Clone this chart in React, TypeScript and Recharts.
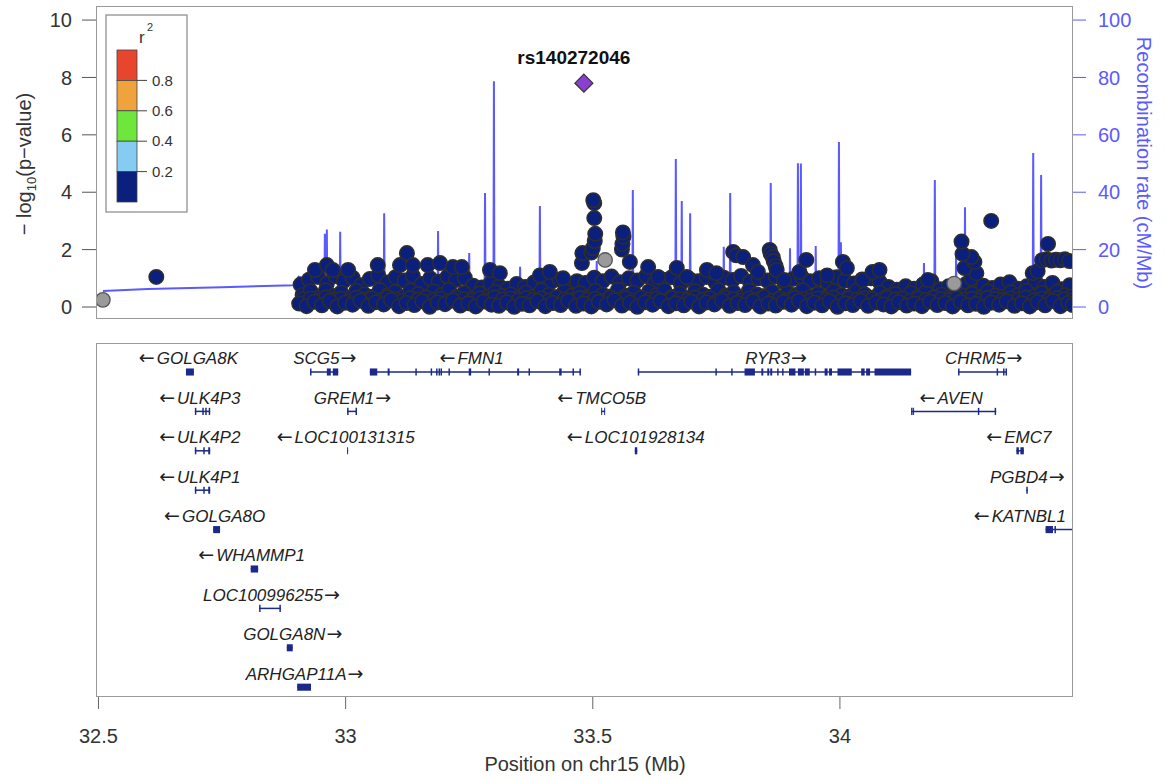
import { ComposedChart, Scatter, Line, XAxis, YAxis, ReferenceLine, ReferenceArea } from 'recharts';

const FONT = '"Liberation Sans", Arial, Helvetica, sans-serif';
const NAVY = '#0b1f7c';
const REC_BLUE = '#5a5aff';

// x range of both panels (Mb on chr15)
const xDomain = [32.495, 34.4715];
const xTicks = [32.5, 33, 33.5, 34];
const pTicks = [0, 2, 4, 6, 8, 10];
const recTicks = [0, 20, 40, 60, 80, 100];

// LD legend
const ldBreaks = ['0.8', '0.6', '0.4', '0.2'];
const ldColors = ['#e8452f', '#f0a23c', '#6fe63c', '#86ccf2', NAVY];

// lead SNP
const leadName = 'rs140272046';
const leadPos = 33.482;
const leadLogP = 7.8;

// SNPs without LD information (grey)
const greySnps: [number, number][] = [[32.509, 0.25], [33.525, 1.64], [34.231, 0.82]];

// dense band of SNPs, bottom row
const lowRow: [number, number][] = [
  [32.906, 0.12], [32.921, 0.03], [32.937, 0.18], [32.952, 0.06], [32.968, 0.21], [32.983, 0.02], [32.999, 0.15], [33.014, 0.08],
  [33.03, 0.22], [33.046, 0.04], [33.061, 0.17], [33.077, 0.09], [33.092, 0.24], [33.108, 0.03], [33.123, 0.14], [33.139, 0.07],
  [33.155, 0.2], [33.17, 0.01], [33.186, 0.16], [33.201, 0.1], [33.217, 0.23], [33.232, 0.05], [33.248, 0.13], [33.263, 0.02],
  [33.279, 0.19], [33.295, 0.08], [33.31, 0.04], [33.326, 0.16], [33.341, 0.01], [33.357, 0.11], [33.372, 0.06], [33.388, 0.2],
  [33.404, 0.03], [33.419, 0.14], [33.435, 0.07], [33.45, 0.22], [33.466, 0.04], [33.481, 0.12], [33.497, 0.02], [33.512, 0.18],
  [33.528, 0.09], [33.544, 0.24], [33.559, 0.05], [33.575, 0.15], [33.59, 0.01], [33.606, 0.17], [33.621, 0.08], [33.637, 0.21],
  [33.653, 0.03], [33.668, 0.13], [33.684, 0.06], [33.699, 0.19], [33.715, 0.02], [33.73, 0.16], [33.746, 0.09], [33.761, 0.23],
  [33.777, 0.04], [33.793, 0.14], [33.808, 0.07], [33.824, 0.2], [33.839, 0.02], [33.855, 0.12], [33.87, 0.05], [33.886, 0.18],
  [33.902, 0.08], [33.917, 0.22], [33.933, 0.03], [33.948, 0.15], [33.964, 0.06], [33.979, 0.2], [33.995, 0.01], [34.011, 0.13],
  [34.026, 0.07], [34.042, 0.21], [34.057, 0.04], [34.073, 0.16], [34.088, 0.09], [34.104, 0.02], [34.119, 0.17], [34.135, 0.05],
  [34.15, 0.12], [34.166, 0.03], [34.182, 0.19], [34.197, 0.07], [34.213, 0.14], [34.228, 0.02], [34.244, 0.18], [34.259, 0.06],
  [34.275, 0.11], [34.291, 0.01], [34.306, 0.15], [34.322, 0.08], [34.337, 0.2], [34.353, 0.04], [34.368, 0.13], [34.384, 0.02],
  [34.4, 0.17], [34.415, 0.06], [34.431, 0.21], [34.446, 0.03], [34.462, 0.14], [34.471, 0.07],
];

// dense band, lower-middle row
const lowMidRow: [number, number][] = [
  [32.913, 0.27], [32.929, 0.3], [32.944, 0.22], [32.96, 0.33], [32.975, 0.26], [32.991, 0.29], [33.006, 0.21], [33.022, 0.32],
  [33.038, 0.25], [33.053, 0.3], [33.069, 0.23], [33.085, 0.34], [33.1, 0.27], [33.116, 0.22], [33.131, 0.31], [33.147, 0.26],
  [33.162, 0.33], [33.178, 0.24], [33.193, 0.29], [33.209, 0.21], [33.225, 0.32], [33.24, 0.27], [33.256, 0.24], [33.271, 0.3],
  [33.287, 0.22], [33.302, 0.33], [33.318, 0.26], [33.334, 0.29], [33.349, 0.23], [33.365, 0.31], [33.38, 0.25], [33.396, 0.3],
  [33.411, 0.22], [33.427, 0.34], [33.443, 0.27], [33.458, 0.23], [33.474, 0.31], [33.489, 0.26], [33.505, 0.29], [33.521, 0.21],
  [33.536, 0.33], [33.552, 0.25], [33.567, 0.3], [33.583, 0.23], [33.598, 0.32], [33.614, 0.26], [33.629, 0.29], [33.645, 0.22],
  [33.661, 0.31], [33.676, 0.27], [33.692, 0.24], [33.707, 0.33], [33.723, 0.25], [33.738, 0.3], [33.754, 0.22], [33.769, 0.32],
  [33.785, 0.27], [33.8, 0.23], [33.816, 0.3], [33.832, 0.26], [33.847, 0.34], [33.863, 0.21], [33.878, 0.29], [33.894, 0.25],
  [33.909, 0.32], [33.925, 0.27], [33.941, 0.23], [33.956, 0.3], [33.972, 0.26], [33.987, 0.33], [34.003, 0.22], [34.018, 0.29],
  [34.034, 0.25], [34.05, 0.31], [34.065, 0.27], [34.081, 0.23], [34.096, 0.32], [34.112, 0.26], [34.127, 0.29], [34.143, 0.22],
  [34.159, 0.3], [34.174, 0.25], [34.19, 0.33], [34.205, 0.27], [34.221, 0.24], [34.236, 0.31], [34.252, 0.26], [34.268, 0.29],
  [34.283, 0.22], [34.299, 0.32], [34.314, 0.27], [34.33, 0.24], [34.345, 0.3], [34.361, 0.26], [34.376, 0.33], [34.392, 0.23],
  [34.408, 0.29], [34.423, 0.25], [34.439, 0.31], [34.454, 0.27], [34.469, 0.23],
];

// dense band, middle row
const midRow: [number, number][] = [
  [32.913, 0.42], [32.929, 0.55], [32.945, 0.33], [32.96, 0.58], [32.976, 0.38], [32.991, 0.5], [33.007, 0.31], [33.022, 0.56],
  [33.038, 0.44], [33.054, 0.36], [33.069, 0.59], [33.085, 0.4], [33.1, 0.52], [33.116, 0.34], [33.131, 0.57], [33.147, 0.45],
  [33.163, 0.32], [33.178, 0.54], [33.194, 0.41], [33.209, 0.6], [33.225, 0.37], [33.24, 0.49], [33.256, 0.3], [33.271, 0.47],
  [33.287, 0.35], [33.303, 0.52], [33.318, 0.39], [33.334, 0.44], [33.349, 0.31], [33.365, 0.5], [33.38, 0.36], [33.396, 0.58],
  [33.411, 0.42], [33.427, 0.34], [33.443, 0.55], [33.458, 0.4], [33.474, 0.48], [33.489, 0.33], [33.505, 0.56], [33.52, 0.43],
  [33.536, 0.37], [33.551, 0.6], [33.567, 0.39], [33.583, 0.5], [33.598, 0.32], [33.614, 0.54], [33.629, 0.41], [33.645, 0.58],
  [33.66, 0.35], [33.676, 0.47], [33.692, 0.3], [33.707, 0.55], [33.723, 0.43], [33.738, 0.36], [33.754, 0.59], [33.769, 0.4],
  [33.785, 0.51], [33.801, 0.34], [33.816, 0.57], [33.832, 0.44], [33.847, 0.38], [33.863, 0.53], [33.878, 0.31], [33.894, 0.49],
  [33.91, 0.42], [33.925, 0.58], [33.941, 0.35], [33.956, 0.46], [33.972, 0.33], [33.987, 0.55], [34.003, 0.41], [34.019, 0.37],
  [34.034, 0.57], [34.05, 0.44], [34.065, 0.32], [34.081, 0.5], [34.096, 0.38], [34.112, 0.45], [34.128, 0.3], [34.143, 0.48],
  [34.159, 0.36], [34.174, 0.52], [34.19, 0.34], [34.205, 0.43], [34.221, 0.31], [34.237, 0.5], [34.252, 0.39], [34.268, 0.46],
  [34.283, 0.33], [34.299, 0.54], [34.314, 0.4], [34.33, 0.35], [34.346, 0.51], [34.361, 0.42], [34.377, 0.56], [34.392, 0.37],
  [34.408, 0.48], [34.423, 0.32], [34.439, 0.53], [34.455, 0.41], [34.468, 0.36],
];

// dense band, top row
const topRow: [number, number][] = [
  [32.909, 0.78], [32.926, 0.95], [32.944, 1.05], [32.962, 0.82], [32.979, 1.08], [32.996, 0.9], [33.014, 1.02], [33.031, 0.76],
  [33.049, 0.98], [33.066, 1.1], [33.084, 0.85], [33.101, 1.04], [33.119, 0.92], [33.136, 1.08], [33.154, 0.8], [33.171, 1.0],
  [33.188, 0.88], [33.206, 1.06], [33.223, 0.94], [33.241, 1.02], [33.258, 0.74], [33.276, 0.68], [33.293, 0.82], [33.311, 0.72],
  [33.328, 0.64], [33.346, 0.8], [33.363, 0.7], [33.381, 0.85], [33.398, 1.0], [33.416, 0.88], [33.433, 0.96], [33.45, 0.8],
  [33.468, 0.9], [33.485, 0.84], [33.503, 1.02], [33.52, 0.9], [33.538, 1.06], [33.555, 0.86], [33.573, 1.0], [33.59, 0.92],
  [33.608, 1.08], [33.625, 0.84], [33.643, 0.95], [33.66, 1.04], [33.678, 0.82], [33.695, 0.98], [33.713, 0.9], [33.73, 1.05],
  [33.748, 0.86], [33.765, 1.02], [33.783, 0.94], [33.8, 1.08], [33.818, 0.88], [33.835, 1.0], [33.853, 0.92], [33.87, 1.06],
  [33.888, 0.84], [33.905, 0.98], [33.923, 1.04], [33.94, 0.9], [33.958, 1.0], [33.975, 0.86], [33.993, 1.04], [34.01, 0.92],
  [34.028, 0.82], [34.045, 0.96], [34.063, 1.0], [34.08, 0.88], [34.098, 0.7], [34.115, 0.6], [34.133, 0.72], [34.15, 0.64],
  [34.168, 0.78], [34.185, 0.9], [34.203, 0.62], [34.22, 0.72], [34.238, 0.68], [34.255, 0.8], [34.273, 0.62], [34.29, 0.74],
  [34.308, 0.66], [34.325, 0.78], [34.343, 0.86], [34.36, 0.64], [34.378, 0.72], [34.395, 0.9], [34.413, 0.7], [34.43, 0.84],
  [34.448, 0.62], [34.465, 0.76],
];

// SNPs standing out above the band
const peakSnps: [number, number][] = [
  [32.617, 1.05],
  [32.938, 1.29], [32.962, 1.46], [32.974, 1.29], [33.005, 1.29], [33.065, 1.46], [33.11, 1.46], [33.124, 1.88], [33.136, 1.46],
  [33.166, 1.46], [33.191, 1.53], [33.217, 1.39], [33.235, 1.39], [33.292, 1.29], [33.312, 1.18], [33.393, 1.1], [33.413, 1.22],
  [33.44, 1.0], [33.478, 1.53], [33.479, 1.88],
  [33.497, 1.9], [33.5, 2.05], [33.504, 2.3], [33.505, 2.55], [33.503, 3.1], [33.503, 3.62], [33.501, 3.72],
  [33.559, 2.0], [33.56, 2.2], [33.562, 2.45], [33.561, 2.6], [33.575, 1.57], [33.612, 1.39], [33.632, 1.05], [33.67, 1.36],
  [33.69, 1.05], [33.731, 1.29], [33.75, 1.18], [33.784, 1.92], [33.79, 1.8], [33.804, 1.74], [33.824, 1.46], [33.834, 1.22],
  [33.858, 1.99], [33.86, 1.85], [33.864, 1.74], [33.866, 1.6], [33.87, 1.42], [33.872, 1.29], [33.887, 0.94], [33.918, 1.22],
  [33.932, 1.64], [33.974, 1.1], [34.006, 1.57], [34.014, 1.36], [34.046, 0.94], [34.066, 1.22], [34.08, 1.29], [34.178, 0.94],
  [34.266, 1.0], [34.276, 1.18], [34.252, 1.36], [34.272, 1.57], [34.266, 1.74], [34.248, 1.85], [34.246, 2.28], [34.306, 3.0],
  [34.39, 1.18], [34.4, 1.25], [34.421, 2.2],
  [34.409, 1.63], [34.418, 1.66], [34.428, 1.62], [34.437, 1.65], [34.446, 1.63], [34.455, 1.66], [34.464, 1.6],
];

// recombination rate (cM/Mb)
const recombRate: [number, number][] = [
  [32.509, 5.6], [32.6, 6.3], [32.75, 6.9], [32.895, 7.6], [32.901, 9.5], [32.905, 10.6], [32.909, 10.2], [32.912, 4.5],
  [32.93, 3.2], [32.95, 2.6], [32.957, 2.4], [32.958, 25.5], [32.959, 3.0], [32.961, 2.8], [32.962, 27.0], [32.963, 2.5],
  [32.975, 1.8], [32.988, 1.6], [32.989, 26.2], [32.99, 1.7], [33.03, 1.2],
  [33.077, 1.0], [33.078, 32.7], [33.079, 1.3], [33.13, 1.5],
  [33.186, 1.1], [33.187, 26.5], [33.188, 1.4], [33.22, 0.9],
  [33.249, 1.0], [33.25, 18.8], [33.251, 1.2],
  [33.281, 1.1], [33.282, 39.7], [33.283, 1.5],
  [33.299, 1.3], [33.3, 78.7], [33.301, 1.6], [33.33, 1.0],
  [33.352, 0.8], [33.353, 14.0], [33.354, 0.9],
  [33.392, 1.1], [33.393, 35.2], [33.394, 1.3], [33.45, 0.9],
  [33.507, 1.2], [33.508, 16.0], [33.509, 1.5],
  [33.58, 1.4], [33.581, 40.8], [33.582, 1.6], [33.62, 1.0],
  [33.667, 1.3], [33.668, 51.6], [33.669, 1.8],
  [33.679, 1.5], [33.68, 36.9], [33.681, 1.7],
  [33.696, 1.4], [33.697, 32.7], [33.698, 1.6], [33.73, 1.1],
  [33.764, 1.3], [33.765, 21.0], [33.766, 1.6],
  [33.777, 1.4], [33.778, 39.7], [33.779, 1.7], [33.82, 1.2],
  [33.859, 1.5], [33.86, 43.2], [33.861, 1.8],
  [33.898, 1.3], [33.899, 20.5], [33.9, 1.5],
  [33.914, 1.6], [33.915, 50.1], [33.916, 2.0], [33.92, 1.9], [33.921, 50.0], [33.922, 1.7],
  [33.95, 1.4], [33.951, 21.3], [33.952, 1.6],
  [33.997, 1.5], [33.998, 57.5], [33.999, 2.2], [34.001, 2.0], [34.002, 22.6], [34.003, 1.7], [34.08, 1.0],
  [34.169, 1.2], [34.17, 15.3], [34.171, 1.4],
  [34.191, 1.3], [34.192, 44.3], [34.193, 1.6],
  [34.234, 1.5], [34.235, 18.8], [34.236, 1.7],
  [34.252, 1.6], [34.253, 34.8], [34.254, 1.8], [34.32, 1.3],
  [34.39, 1.5], [34.391, 53.7], [34.392, 2.0],
  [34.406, 1.8], [34.407, 46.0], [34.408, 2.2], [34.471, 1.8],
];

// genes
const geneNames = [
  'GOLGA8K', 'SCG5', 'FMN1', 'RYR3', 'CHRM5', 'ULK4P3', 'GREM1', 'TMCO5B', 'AVEN', 'ULK4P2', 'LOC100131315',
  'LOC101928134', 'EMC7', 'ULK4P1', 'PGBD4', 'GOLGA8O', 'KATNBL1', 'WHAMMP1', 'LOC100996255', 'GOLGA8N', 'ARHGAP11A',
];
const geneStrand = ['-', '+', '-', '+', '+', '-', '+', '-', '-', '-', '-', '-', '-', '-', '+', '-', '-', '-', '+', '+', '+'];
const geneRow = [1, 1, 1, 1, 1, 2, 2, 2, 2, 3, 3, 3, 3, 4, 4, 5, 5, 6, 7, 8, 9];
const geneStart = [32.677, 32.928, 33.049, 33.591, 34.239, 32.695, 33.003, 33.517, 34.144, 32.695, 33.003, 33.585, 34.357, 32.695, 34.377, 32.732, 34.416, 32.808, 32.825, 32.881, 32.902];
const geneEnd = [32.693, 32.985, 33.476, 34.144, 34.338, 32.726, 33.023, 33.525, 34.316, 32.726, 33.005, 33.59, 34.372, 32.726, 34.38, 32.746, 34.52, 32.823, 32.869, 32.893, 32.93];
const geneLabelAt = [32.682, 32.958, 33.255, 33.871, 34.291, 32.705, 33.014, 33.518, 34.225, 32.705, 33.0, 33.587, 34.362, 32.705, 34.379, 32.735, 34.364, 32.81, 32.85, 32.893, 32.917];
const geneExons: [number, number][][] = [
  [[32.677, 32.693]],
  [[32.928, 32.931], [32.962, 32.97], [32.974, 32.985]],
  [[33.049, 33.064], [33.085, 33.089], [33.141, 33.144], [33.172, 33.175], [33.183, 33.186], [33.188, 33.191], [33.192, 33.195],
    [33.208, 33.211], [33.249, 33.254], [33.289, 33.292], [33.347, 33.351], [33.37, 33.373], [33.432, 33.437], [33.459, 33.462], [33.473, 33.476]],
  [[33.591, 33.594], [33.748, 33.751], [33.78, 33.783], [33.807, 33.828], [33.841, 33.845], [33.853, 33.857], [33.859, 33.863],
    [33.873, 33.876], [33.883, 33.886], [33.897, 33.91], [33.915, 33.927], [33.929, 33.939], [33.949, 33.952], [33.969, 33.975],
    [33.978, 33.984], [33.995, 34.024], [34.043, 34.05], [34.053, 34.061], [34.07, 34.144]],
  [[34.239, 34.242], [34.317, 34.32], [34.33, 34.333], [34.335, 34.338]],
  [[32.695, 32.698], [32.71, 32.713], [32.716, 32.719], [32.723, 32.726]],
  [[33.003, 33.006], [33.02, 33.023]],
  [[33.517, 33.519], [33.523, 33.525]],
  [[34.144, 34.147], [34.148, 34.15], [34.279, 34.282], [34.313, 34.316]],
  [[32.695, 32.698], [32.712, 32.715], [32.722, 32.726]],
  [[33.003, 33.005]],
  [[33.585, 33.59]],
  [[34.357, 34.362], [34.365, 34.372]],
  [[32.695, 32.698], [32.712, 32.715], [32.722, 32.726]],
  [[34.377, 34.38]],
  [[32.732, 32.746]],
  [[34.416, 34.431], [34.434, 34.437]],
  [[32.808, 32.823]],
  [[32.825, 32.828], [32.866, 32.869]],
  [[32.881, 32.893]],
  [[32.902, 32.93]],
];

const toPoints = (arr: [number, number][]) => arr.map(([x, y]) => ({ x, y }));

const NavyDot = (props: any) => (
  <circle cx={props.cx} cy={props.cy} r={7.2} fill={NAVY} stroke="#2e2e2e" strokeWidth={1.6} />
);
const GreyDot = (props: any) => (
  <circle cx={props.cx} cy={props.cy} r={7.2} fill="#9a9a9a" stroke="#555" strokeWidth={1.3} />
);
const LeadDiamond = (props: any) => {
  const { cx, cy } = props;
  return (
    <g>
      <path d={`M${cx},${cy - 9} L${cx + 9},${cy} L${cx},${cy + 9} L${cx - 9},${cy} Z`} fill="#8a3fd1" stroke="#333" strokeWidth={1.2} />
      <text x={cx - 10} y={cy - 19} textAnchor="middle" fontFamily={FONT} fontWeight="bold" fontSize={19} fill="#111">
        {props.payload.name}
      </text>
    </g>
  );
};
const ARROW_FONT = '"DejaVu Sans", sans-serif';
const GeneLabel = (props: any) => {
  const { cx, cy, payload } = props;
  const plus = payload.strand === '+';
  return (
    <text x={cx} y={cy - 7.5} textAnchor="middle" fontFamily={FONT} fontStyle="italic" fontSize={17} fill="#222">
      {plus ? null : <tspan fontFamily={ARROW_FONT} fontStyle="normal" fontSize={19}>{'\u2190'}</tspan>}
      <tspan dx={plus ? 0 : 2}>{payload.name}</tspan>
      {plus ? <tspan fontFamily={ARROW_FONT} fontStyle="normal" fontSize={19} dx={1}>{'\u2192'}</tspan> : null}
    </text>
  );
};

export default function App() {
  const recData = recombRate.map(([x, rate]) => ({ x, rate }));
  const labelData = geneNames.map((name, i) => ({ x: geneLabelAt[i], y: geneRow[i], name, strand: geneStrand[i] }));
  const tickFont = { fill: '#333', fontSize: 20, fontFamily: FONT };

  return (
    <div style={{ position: 'absolute', left: 0, top: 0, width: 1165, height: 780, background: '#fff', fontFamily: FONT }}>
      <div style={{ position: 'absolute', left: 0, top: 0 }}>
        <ComposedChart width={1165} height={322} margin={{ top: 6, right: 0, bottom: 3, left: 0 }}>
          <XAxis type="number" dataKey="x" domain={xDomain} allowDataOverflow hide />
          <YAxis
            yAxisId="p" type="number" dataKey="y" domain={[-0.418, 10.49]} allowDataOverflow ticks={pTicks} interval={0}
            width={96} tickSize={14} tickMargin={10} axisLine={false} tickLine={{ stroke: '#555' }} tick={tickFont}
          />
          <YAxis
            yAxisId="rec" orientation="right" type="number" domain={[-4.18, 104.9]} allowDataOverflow ticks={recTicks} interval={0}
            width={92} tickSize={13} tickMargin={12} axisLine={false} tickLine={{ stroke: REC_BLUE }}
            tick={{ fill: REC_BLUE, fontSize: 20, fontFamily: FONT }}
          />
          <Line yAxisId="rec" data={recData} dataKey="rate" type="linear" dot={false} stroke={REC_BLUE} strokeWidth={2} isAnimationActive={false} />
          <Scatter yAxisId="p" data={toPoints(topRow)} shape={NavyDot} isAnimationActive={false} />
          <Scatter yAxisId="p" data={toPoints(midRow)} shape={NavyDot} isAnimationActive={false} />
          <Scatter yAxisId="p" data={toPoints(lowMidRow)} shape={NavyDot} isAnimationActive={false} />
          <Scatter yAxisId="p" data={toPoints(lowRow)} shape={NavyDot} isAnimationActive={false} />
          <Scatter yAxisId="p" data={toPoints(peakSnps)} shape={NavyDot} isAnimationActive={false} />
          <Scatter yAxisId="p" data={toPoints(greySnps)} shape={GreyDot} isAnimationActive={false} />
          <Scatter yAxisId="p" data={[{ x: leadPos, y: leadLogP, name: leadName }]} shape={LeadDiamond} isAnimationActive={false} />
        </ComposedChart>
      </div>

      <div style={{ position: 'absolute', left: 0, top: 337 }}>
        <ComposedChart width={1165} height={420} margin={{ top: 6, right: 92, bottom: 0, left: 96 }}>
          <XAxis
            type="number" dataKey="x" domain={xDomain} allowDataOverflow ticks={xTicks} interval={0} height={60}
            tickSize={12} tickMargin={20} axisLine={false} tickLine={{ stroke: '#666' }} tick={tickFont}
            tickFormatter={(v: number) => String(v)}
          />
          <YAxis type="number" dataKey="y" domain={[0.264, 9.249]} reversed allowDataOverflow hide />
          {geneNames.map((name, i) => (
            <ReferenceLine
              key={`l-${name}`}
              segment={[{ x: geneStart[i], y: geneRow[i] }, { x: geneEnd[i], y: geneRow[i] }]}
              stroke="#1b2a8a" strokeWidth={1.5} ifOverflow="hidden"
            />
          ))}
          {geneNames.map((name, i) =>
            geneExons[i].map(([a, b], j) => (
              <ReferenceArea
                key={`e-${name}-${j}`} x1={a} x2={b} y1={geneRow[i] - 0.09} y2={geneRow[i] + 0.09}
                fill="#1b2a8a" fillOpacity={1} stroke="none" ifOverflow="hidden"
              />
            ))
          )}
          <Scatter data={labelData} shape={GeneLabel} isAnimationActive={false} />
        </ComposedChart>
      </div>

      {/* panel frames */}
      <div style={{ position: 'absolute', left: 96, top: 6, width: 977, height: 313, border: '1.5px solid #9a9a9a', boxSizing: 'border-box', pointerEvents: 'none' }} />
      <div style={{ position: 'absolute', left: 96, top: 343, width: 977, height: 354, border: '1.5px solid #9a9a9a', boxSizing: 'border-box', pointerEvents: 'none' }} />

      <svg width={1165} height={780} style={{ position: 'absolute', left: 0, top: 0, pointerEvents: 'none' }}>
        {/* LD legend */}
        <rect x={106} y={15} width={81} height={197} fill="#fff" stroke="#888" strokeWidth={1.2} />
        <text x={139} y={43} fontFamily={FONT} fontSize={17} fill="#333">r</text>
        <text x={147} y={31} fontFamily={FONT} fontSize={11} fill="#333">2</text>
        {ldColors.map((c, i) => (
          <rect key={c} x={117} y={50 + i * 30.4} width={20} height={30.4} fill={c} stroke="#444" strokeWidth={0.8} />
        ))}
        {ldBreaks.map((b, i) => (
          <g key={b}>
            <line x1={137} x2={147} y1={80.4 + i * 30.4} y2={80.4 + i * 30.4} stroke="#444" strokeWidth={1} />
            <text x={152} y={85.5 + i * 30.4} fontFamily={FONT} fontSize={15} fill="#333">{b}</text>
          </g>
        ))}

        {/* axis titles */}
        <text x={31} y={164} transform="rotate(-90 31 164)" textAnchor="middle" fontFamily={FONT} fontSize={20} fill="#333">
          <tspan>{'\u2212 log'}</tspan>
          <tspan fontSize={13} dy={5}>10</tspan>
          <tspan dy={-5}>(p{'\u2212'}value)</tspan>
        </text>
        <text x={1137} y={163} transform="rotate(90 1137 163)" textAnchor="middle" fontFamily={FONT} fontSize={20} fill={REC_BLUE}>
          Recombination rate (cM/Mb)
        </text>
        <text x={585} y={771} textAnchor="middle" fontFamily={FONT} fontSize={20} fill="#333">
          Position on chr15 (Mb)
        </text>
      </svg>
    </div>
  );
}
